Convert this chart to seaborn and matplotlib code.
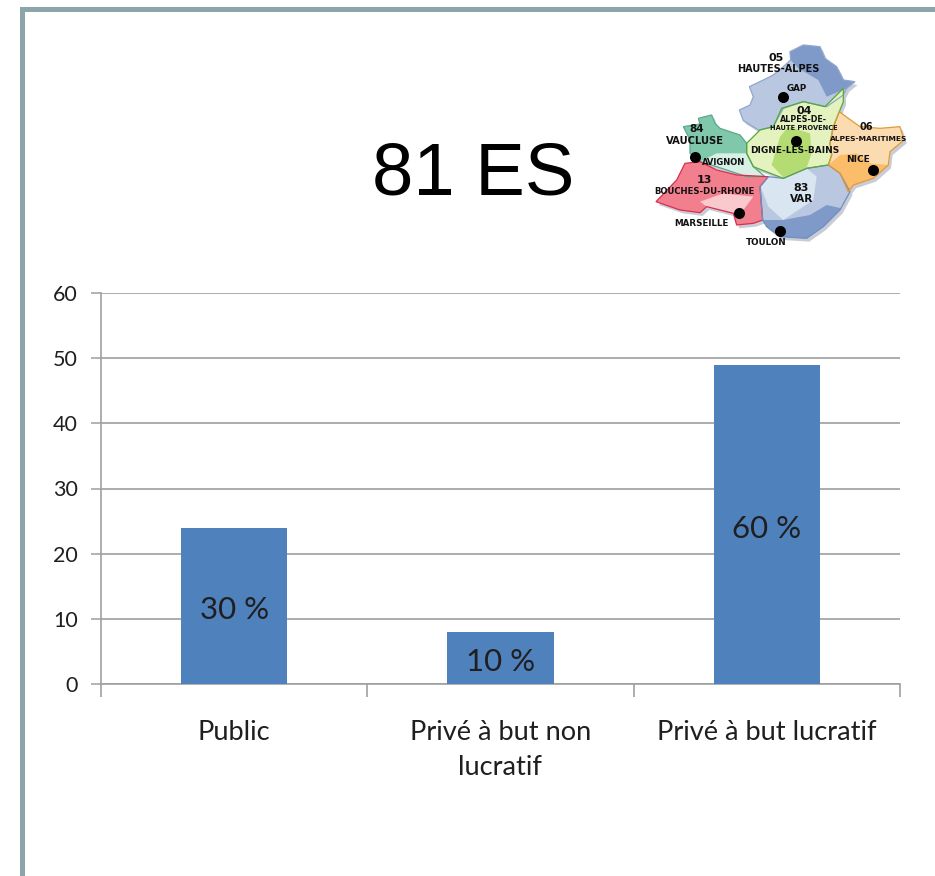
import pandas as pd
import seaborn as sns
import matplotlib.pyplot as plt
from matplotlib.patches import Polygon, Rectangle

W, H = 935, 876

# donnees du graphique
categories = ['Public', 'Privé à but non\nlucratif', 'Privé à but lucratif']
valeurs = [24, 8, 49]
pourcentages = ['30 %', '10 %', '60 %']
yticks = [0, 10, 20, 30, 40, 50, 60]

# carte de la region (repere du zoom: 885 x 690)
hautes_alpes = [(298,240),(330,225),(340,200),(328,170),(370,150),(400,135),(430,110),(452,90),(450,65),(490,45),(540,50),(555,85),(590,110),(610,150),(645,155),(620,175),(610,195),(560,230),(490,215),(430,235),(400,290),(355,300),(310,272)]
hautes_alpes_fonce = [(452,90),(450,65),(490,45),(540,50),(555,85),(590,110),(610,150),(645,155),(620,175),(560,200),(535,150),(475,115)]
alpes_hp = [(320,340),(360,300),(400,290),(425,235),(490,215),(555,230),(610,175),(610,215),(598,245),(580,290),(570,340),(575,375),(565,405),(500,415),(430,445),(340,410),(320,370)]
alpes_hp_fonce = [(395,405),(420,320),(445,290),(510,310),(515,370),(500,412),(430,442)]
alpes_mar = [(598,245),(625,265),(660,290),(720,295),(780,290),(792,330),(750,365),(745,405),(700,445),(640,465),(625,485),(600,430),(565,405),(575,375),(570,340),(580,290)]
alpes_mar_fonce = [(565,405),(600,375),(650,370),(690,400),(745,405),(700,445),(640,465),(625,485),(600,430)]
var = [(360,470),(385,440),(430,445),(500,415),(565,405),(600,430),(630,485),(600,540),(550,590),(500,625),(420,620),(380,590),(368,570)]
var_clair = [(362,470),(385,440),(430,445),(500,415),(530,440),(520,510),(430,570),(385,530)]
var_fonce = [(368,570),(430,570),(510,555),(560,525),(605,535),(550,590),(500,625),(420,620),(380,590)]
vaucluse = [(130,290),(180,282),(175,265),(215,255),(225,280),(240,295),(300,315),(320,340),(320,370),(340,410),(375,440),(320,440),(230,410),(180,395),(150,370),(150,330)]
vaucluse_clair = [(180,395),(230,370),(320,370),(340,410),(375,440),(320,440),(230,410)]
bdr = [(48,515),(110,450),(135,400),(180,395),(230,420),(290,435),(385,440),(360,470),(368,570),(340,580),(290,585),(280,550),(200,530),(180,548),(120,540)]
bdr_clair = [(180,515),(250,490),(340,500),(310,540),(280,550),(200,530)]
zones = [
    (hautes_alpes, '#b9c7e0'), (hautes_alpes_fonce, '#7f9ac8'),
    (vaucluse, '#7fc8ac'), (vaucluse_clair, '#d8efe6'),
    (bdr, '#f27f8e'), (bdr_clair, '#f9c9cd'),
    (var, '#b9c7e0'), (var_clair, '#d9e5f1'), (var_fonce, '#7f9ac8'),
    (alpes_hp, '#e4f2c0'), (alpes_hp_fonce, '#b5dc72'),
    (alpes_mar, '#fbdcb0'), (alpes_mar_fonce, '#fbbd6a'),
]
contours = [
    (hautes_alpes, '#8fa6cf'), (vaucluse, '#5ca88c'), (bdr, '#d62f4f'),
    (var, '#6f8fc0'), (alpes_hp, '#55a83c'), (alpes_mar, '#e09a3a'),
]
villes = [(428,201),(467,332),(698,420),(164,382),(298,549),(420,602)]
textes_carte = [
    (408,85,'05',8), (415,118,'HAUTES-ALPES',7), (470,176,'GAP',6.3),
    (492,242,'04',8), (490,270,'ALPES-DE-',5.8), (490,293,'HAUTE PROVENCE',4.8),
    (464,361,'DIGNE-LES-BAINS',6.5), (678,290,'06',7), (685,328,'ALPES-MARITIMES',5.4),
    (654,390,'NICE',6.5), (170,298,'84',7.5), (165,332,'VAUCLUSE',7.2),
    (252,398,'AVIGNON',6), (192,450,'13',8), (192,484,'BOUCHES-DU-RHONE',6.1),
    (484,474,'83',8), (484,507,'VAR',7.5), (184,582,'MARSEILLE',6.3), (380,638,'TOULON',6.3),
]

sns.set_theme(style='white')
plt.rcParams['font.family'] = ['Lato', 'DejaVu Sans']

fig = plt.figure(figsize=(W / 100, H / 100), dpi=100)
fig.patch.set_facecolor('white')

# cadre de la diapositive
fig.add_artist(Rectangle((20 / W, 0), 5 / W, 1 - 7 / H, transform=fig.transFigure, color='#8ba5a8', lw=0))
fig.add_artist(Rectangle((20 / W, 1 - 12 / H), 1 - 20 / W, 5 / H, transform=fig.transFigure, color='#8ba5a8', lw=0))

ax = fig.add_axes([101 / W, 1 - 684 / H, 799 / W, 391 / H])
df = pd.DataFrame({'categorie': categories, 'valeur': valeurs})
sns.barplot(data=df, x='categorie', y='valeur', color='#4f81bd', saturation=1, width=0.4, linewidth=0, edgecolor='none', ax=ax, zorder=3)
ax.set_xlim(-0.5, 2.5)
ax.set_ylim(0, 60)
ax.set_xlabel('')
ax.set_ylabel('')
ax.set_yticks(yticks)
ax.yaxis.grid(True, color='#a6a6a6', lw=1.3, zorder=0)
ax.set_axisbelow(True)
sns.despine(ax=ax, top=True, right=True)
for s in ['left', 'bottom']:
    ax.spines[s].set_color('#a0a0a0')
    ax.spines[s].set_linewidth(1.2)

ax.tick_params(axis='y', length=7, width=1.2, color='#a6a6a6', labelsize=15.5, labelcolor='#1f1f1f', pad=9.5, left=True)
ax.set_xticks([-0.5, 0.5, 1.5, 2.5], minor=True)
ax.tick_params(axis='x', which='minor', length=9, width=1.2, color='#a0a0a0', bottom=True)
ax.tick_params(axis='x', which='major', length=0, labelsize=19.6, labelcolor='#1f1f1f', pad=26)
for lab in ax.get_xticklabels():
    lab.set_linespacing(1.47)

etiquettes = ax.bar_label(ax.containers[0], labels=pourcentages, label_type='center', fontsize=22.5, color='#1f1f1f', zorder=5)
for t in etiquettes:
    t.xyann = (0, -3)

fig.text(473 / W, 1 - 175 / H, '81 ES', fontsize=53.5, family=['Liberation Sans'], color='black', ha='center', va='center')

# petite carte PACA en haut a droite
carte = fig.add_axes([640 / W, 1 - 260 / H, 295 / W, 230 / H])
carte.set_xlim(0, 885)
carte.set_ylim(690, 0)
carte.axis('off')
for pts, _ in contours:
    carte.add_patch(Polygon([(x + 8, y + 10) for x, y in pts], color='#c9ccd6', lw=0, zorder=1))
for pts, coul in zones:
    carte.add_patch(Polygon(pts, color=coul, lw=0, zorder=2))
for pts, coul in contours:
    carte.add_patch(Polygon(pts, fill=False, edgecolor=coul, lw=0.9, zorder=3))
carte.scatter([v[0] for v in villes], [v[1] for v in villes], s=48, color='black', zorder=4)
for x, y, t, taille in textes_carte:
    carte.text(x, y, t, fontsize=taille, family=['DejaVu Sans'], weight='bold', color='#111111', ha='center', va='center', zorder=5)

fig.savefig('out.png', dpi=100, facecolor='white')
